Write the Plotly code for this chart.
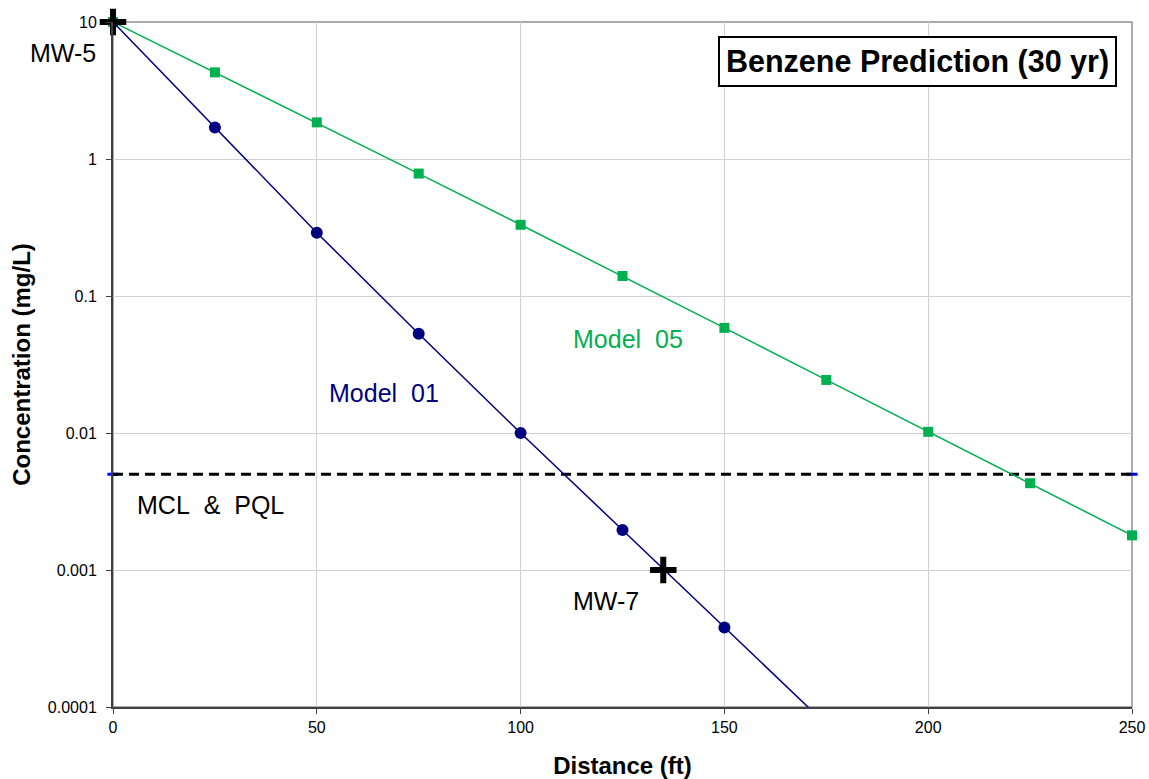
import math
import plotly.graph_objects as go

# ---- data ----
distance = [0, 25, 50, 75, 100, 125, 150, 175]
model01 = [10, 1.70, 0.29, 0.053, 0.0100, 0.00196, 0.00038, 0.0000745]
distance05 = [0, 25, 50, 75, 100, 125, 150, 175, 200, 225, 250]
model05 = [10, 4.29, 1.85, 0.783, 0.331, 0.140, 0.0585, 0.0244, 0.0102, 0.0043, 0.00179]
mcl_x = [0, 250]
mcl_y = [0.005, 0.005]
wells_x = [0, 135]
wells_y = [10, 0.001]
well_names = ["MW-5", "MW-7"]
y_ticks = [0.0001, 0.001, 0.01, 0.1, 1, 10]
y_tick_text = ["0.0001", "0.001", "0.01", "0.1", "1", "10"]
x_ticks = [0, 50, 100, 150, 200, 250]

FONT = "Liberation Sans, Arial, sans-serif"
GREEN = "#00B050"
NAVY = "#000080"

fig = go.Figure()

# blue end-caps of the MCL series
fig.add_trace(go.Scatter(
    x=mcl_x, y=mcl_y, mode="markers",
    marker=dict(symbol="line-ew-open", size=8, color="#0000FF",
                line=dict(color="#0000FF", width=3)),
    showlegend=False, hoverinfo="skip", cliponaxis=False))

fig.add_trace(go.Scatter(
    x=mcl_x, y=mcl_y, mode="lines",
    line=dict(color="black", width=3, dash="10px,6px"),
    showlegend=False, hoverinfo="skip"))

fig.add_trace(go.Scatter(
    x=distance05, y=model05, mode="lines+markers",
    line=dict(color=GREEN, width=1.5),
    marker=dict(symbol="square", size=10, color=GREEN),
    showlegend=False, cliponaxis=False))

fig.add_trace(go.Scatter(
    x=distance, y=model01, mode="lines+markers",
    line=dict(color=NAVY, width=1.5),
    marker=dict(symbol="circle", size=12, color=NAVY),
    showlegend=False, cliponaxis=True))

fig.add_trace(go.Scatter(
    x=wells_x, y=wells_y, mode="markers",
    marker=dict(symbol="cross-thin", size=19, color="black",
                line=dict(color="black", width=6)),
    showlegend=False, cliponaxis=False))

# annotations (log axis -> annotation y in log10 units)
ann_font = dict(family=FONT, size=25, color="black")
fig.add_annotation(x=wells_x[0], y=math.log10(wells_y[0]), xref="x", yref="y",
                   text=well_names[0], showarrow=False,
                   xanchor="center", yanchor="middle", xshift=-50, yshift=-31,
                   font=ann_font)
fig.add_annotation(x=wells_x[1], y=math.log10(wells_y[1]), xref="x", yref="y",
                   text=well_names[1], showarrow=False,
                   xanchor="center", yanchor="middle", xshift=-57, yshift=-31,
                   font=ann_font)
fig.add_annotation(x=126.4, y=-1.312, xref="x", yref="y", text="Model&nbsp; 05",
                   showarrow=False, xanchor="center", yanchor="middle",
                   font=dict(family=FONT, size=25, color=GREEN))
fig.add_annotation(x=66.5, y=-1.707, xref="x", yref="y", text="Model&nbsp; 01",
                   showarrow=False, xanchor="center", yanchor="middle",
                   font=dict(family=FONT, size=25, color=NAVY))
fig.add_annotation(x=23.8, y=-2.526, xref="x", yref="y", text="MCL&nbsp; &amp;&nbsp; PQL",
                   showarrow=False, xanchor="center", yanchor="middle",
                   font=dict(family=FONT, size=25, color="black"))
fig.add_annotation(x=0.985, y=0.9425, xref="paper", yref="paper",
                   text="<b>Benzene Prediction (30 yr)</b>", showarrow=False,
                   xanchor="right", yanchor="middle",
                   bordercolor="black", borderwidth=2, borderpad=6, bgcolor="white",
                   font=dict(family=FONT, size=30.5, color="black"))

# frame top/right in gray
fig.add_shape(type="rect", xref="paper", yref="paper", x0=0, y0=0, x1=1, y1=1,
              line=dict(color="#909090", width=1.5), layer="below")

fig.update_layout(
    width=1149, height=779,
    margin=dict(l=113, r=17, t=22, b=72),
    paper_bgcolor="white", plot_bgcolor="white",
    font=dict(family=FONT, size=16, color="black"),
    xaxis=dict(range=[0, 250], tickvals=x_ticks, ticks="outside", ticklen=5,
               tickcolor="#404040", showline=True, linecolor="#404040", linewidth=2,
               showgrid=True, gridcolor="#D0D0D0", gridwidth=1, zeroline=False,
               automargin=False,
               tickfont=dict(family=FONT, size=16, color="black"),
               title=dict(text="<b>Distance (ft)</b>", standoff=22,
                          font=dict(family=FONT, size=24, color="black"))),
    yaxis=dict(type="log", range=[-4, 1], tickvals=y_ticks, ticktext=y_tick_text,
               ticks="outside", ticklen=5, tickcolor="#404040",
               showline=True, linecolor="#404040", linewidth=2,
               showgrid=True, gridcolor="#D0D0D0", gridwidth=1, zeroline=False,
               automargin=False, ticklabelstandoff=6,
               tickfont=dict(family=FONT, size=16, color="black"),
               title=dict(text="<b>Concentration (mg/L)</b>", standoff=10,
                          font=dict(family=FONT, size=24, color="black"))),
)

fig.write_html("out.html")
